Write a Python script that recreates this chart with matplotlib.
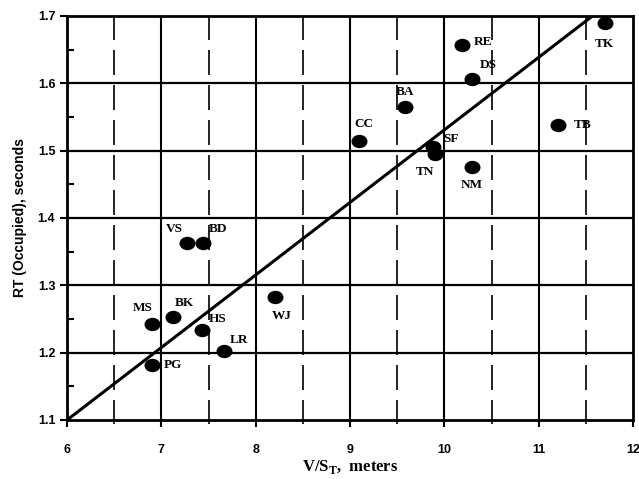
import numpy as np
import matplotlib
matplotlib.use("Agg")
import matplotlib.pyplot as plt
from matplotlib.ticker import MultipleLocator
from matplotlib.path import Path
from matplotlib.transforms import Affine2D

##### data #####
names = ["TK", "RE", "DS", "BA", "CC", "SF", "TN", "NM", "TB",
         "VS", "BD", "MS", "BK", "HS", "LR", "PG", "WJ"]
vs_t = [11.70, 10.19, 10.29, 9.58, 9.10, 9.88, 9.90, 10.29, 11.20,
        7.27, 7.44, 6.90, 7.12, 7.43, 7.66, 6.90, 8.20]
rt_occ = [1.690, 1.657, 1.607, 1.565, 1.515, 1.505, 1.495, 1.476, 1.538,
          1.363, 1.363, 1.242, 1.253, 1.233, 1.203, 1.182, 1.283]
fit_x = [6.0, 11.57]
fit_y = [1.10, 1.70]
##### data #####

# label offsets in points (dx, dy)
offsets = {"TK": (0, -15), "RE": (15, 2), "DS": (12, 10), "BA": (0, 11),
           "CC": (3, 12), "SF": (13, 6), "TN": (-7, -13), "NM": (0, -13),
           "TB": (18, 0), "VS": (-9, 10), "BD": (11, 10), "MS": (-7, 12),
           "BK": (8, 10), "HS": (11, 8), "LR": (11, 8), "PG": (15, 0),
           "WJ": (5, -14)}

# slightly flattened dot, like the scanned original
dot = Path.unit_circle().transformed(Affine2D().scale(1.0, 0.82))

fig = plt.figure(figsize=(6.39, 4.79), dpi=100)
ax = fig.add_axes([0.105, 0.1232, 0.8856, 0.8434])

ax.set_xlim(6, 12)
ax.set_ylim(1.1, 1.7)

ax.xaxis.set_major_locator(MultipleLocator(1))
ax.xaxis.set_minor_locator(MultipleLocator(0.5))
ax.yaxis.set_major_locator(MultipleLocator(0.1))
ax.yaxis.set_minor_locator(MultipleLocator(0.05))

# grid: solid at majors, dashed verticals at half units
for xv in np.arange(7, 12, 1):
    ax.axvline(xv, color="black", lw=1.5, zorder=1)
for xv in np.arange(6.5, 12, 1):
    ax.axvline(xv, color="black", lw=1.2, ls=(3, (15, 6)), zorder=1)
for yv in np.arange(1.2, 1.65, 0.1):
    ax.axhline(yv, color="black", lw=1.6, zorder=1)

ax.plot(fit_x, fit_y, color="black", lw=2.2, zorder=2)
ax.plot(vs_t, rt_occ, ls="none", marker=dot, color="black", ms=10.5,
        zorder=3)

for n, xv, yv in zip(names, vs_t, rt_occ):
    dx, dy = offsets[n]
    ax.annotate(n, (xv, yv), xytext=(dx, dy), textcoords="offset points",
                ha="center", va="center", fontsize=9.5, fontweight="bold",
                family="Liberation Serif", zorder=4)

for s in ax.spines.values():
    s.set_linewidth(2)

ax.tick_params(which="major", direction="out", length=5, width=1.5,
               labelsize=9)
ax.tick_params(axis="y", which="minor", direction="in", length=5, width=1.5)
ax.tick_params(axis="x", which="minor", direction="out", length=3, width=1.2)
for lab in ax.get_xticklabels() + ax.get_yticklabels():
    lab.set_fontweight("bold")
    lab.set_family("Liberation Sans")
ax.tick_params(axis="x", pad=12)

ax.set_ylabel("RT (Occupied), seconds", fontsize=10, fontweight="bold",
              family="Liberation Sans", labelpad=8)
ax.set_xlabel(r"V/S$_\mathregular{T}$,  meters", fontsize=12,
              family="Liberation Serif", fontweight="bold", labelpad=2)

fig.savefig("out.png", dpi=100)
